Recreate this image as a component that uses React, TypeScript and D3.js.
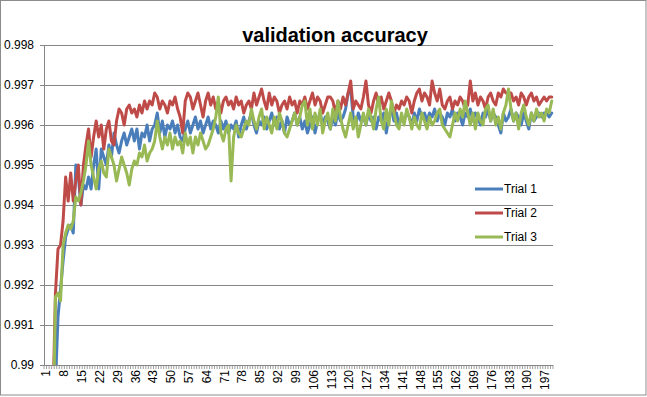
import React from "react";
import * as d3 from "d3";

// validation accuracy per epoch
const trial1 = [
  0.984, 0.986, 0.987, 0.988, 0.9895, 0.9912, 0.9919, 0.9926, 0.9932, 0.9934,
  0.9935, 0.9933, 0.995, 0.9947, 0.994, 0.9945, 0.9944, 0.9947, 0.9944, 0.995,
  0.9954, 0.9944, 0.9954, 0.9952, 0.995, 0.9955, 0.9952, 0.9958, 0.9955, 0.9953,
  0.9956, 0.9958, 0.9955, 0.9957, 0.9959, 0.9956, 0.9959, 0.9954, 0.9958, 0.9957,
  0.996, 0.9956, 0.9959, 0.996, 0.9963, 0.9958, 0.9961, 0.9957, 0.996, 0.9959,
  0.9961, 0.9958, 0.996, 0.9957, 0.9956, 0.9959, 0.9961, 0.9958, 0.996, 0.9962,
  0.9959, 0.9961, 0.9958, 0.996, 0.9962, 0.9959, 0.9961, 0.996, 0.9958, 0.9961,
  0.9959, 0.9961, 0.9958, 0.996, 0.9959, 0.9961, 0.9957, 0.996, 0.9962, 0.9959,
  0.9961, 0.9963, 0.996, 0.9958, 0.9961, 0.996, 0.9962, 0.9959, 0.9961, 0.9963,
  0.996, 0.9962, 0.9959, 0.9961, 0.9958, 0.9962, 0.996, 0.9961, 0.9963, 0.996,
  0.9962, 0.9959, 0.9961, 0.9958, 0.996, 0.9962, 0.9958, 0.9961, 0.9963, 0.996,
  0.9962, 0.9961, 0.9959, 0.9962, 0.996, 0.9963, 0.9961, 0.9962, 0.9964, 0.9968,
  0.9969, 0.9962, 0.996, 0.9963, 0.9961, 0.9962, 0.996, 0.9963, 0.9961, 0.9962,
  0.9959, 0.9962, 0.9961, 0.9963, 0.9958, 0.9962, 0.9964, 0.9961, 0.9963, 0.996,
  0.9962, 0.9961, 0.9963, 0.9962, 0.996, 0.9963, 0.9961, 0.9964, 0.9962, 0.9963,
  0.9961, 0.9963, 0.9962, 0.9964, 0.9961, 0.9963, 0.9962, 0.996, 0.9963, 0.9962,
  0.9964, 0.9961, 0.9963, 0.9962, 0.996, 0.9963, 0.9962, 0.9964, 0.9961, 0.9963,
  0.9962, 0.996, 0.9963, 0.9962, 0.9964, 0.9961, 0.9963, 0.9962, 0.996, 0.9958,
  0.9963, 0.9961, 0.9962, 0.9964, 0.9961, 0.9963, 0.9962, 0.996, 0.9963, 0.9961,
  0.9959, 0.9963, 0.9961, 0.9962, 0.9963, 0.9962, 0.9963, 0.9963, 0.9962, 0.9963,
];

const trial2 = [
  0.985, 0.987, 0.988, 0.989, 0.9918, 0.9929, 0.993, 0.9936, 0.9947, 0.9941,
  0.9948, 0.9941, 0.9946, 0.995, 0.994, 0.995, 0.9955, 0.9959, 0.9952, 0.9957,
  0.9961, 0.9957, 0.996, 0.9954, 0.9959, 0.9961, 0.9956, 0.9955, 0.9961, 0.9964,
  0.9963, 0.996, 0.9964, 0.9965, 0.9963, 0.9964, 0.9962, 0.9965, 0.9963, 0.9966,
  0.9964, 0.9966, 0.9965, 0.9968, 0.9967, 0.9964, 0.9966, 0.9965, 0.9963, 0.9966,
  0.9965, 0.9967, 0.9964, 0.9962, 0.9958, 0.9966, 0.9968, 0.9967, 0.9964, 0.9966,
  0.9968, 0.9965, 0.9962, 0.9966, 0.9968, 0.9965, 0.9967, 0.9964, 0.9966, 0.9963,
  0.9966, 0.9967, 0.9965, 0.9966, 0.9964, 0.9967, 0.9965, 0.9966, 0.9963, 0.9965,
  0.9966, 0.9964, 0.9968, 0.9965, 0.9967, 0.9969, 0.9966, 0.9964, 0.9968, 0.9965,
  0.9967, 0.9966, 0.9963, 0.9965, 0.9966, 0.9964, 0.9967, 0.9965, 0.9966, 0.9963,
  0.9966, 0.9965, 0.9967, 0.9964, 0.9966, 0.9968, 0.9965, 0.9967, 0.9966, 0.9963,
  0.9965, 0.9967, 0.9967, 0.9966, 0.9963, 0.9966, 0.9964, 0.9967, 0.9965, 0.9968,
  0.9971, 0.9964, 0.9966, 0.9965, 0.9964, 0.9967, 0.9971, 0.9965, 0.9963, 0.9966,
  0.9968, 0.9965, 0.9967, 0.9964, 0.9966, 0.9968, 0.9966, 0.9963, 0.9965, 0.9964,
  0.9966, 0.9965, 0.9967, 0.9966, 0.9963, 0.9966, 0.9968, 0.9969, 0.9966, 0.9968,
  0.9967, 0.9965, 0.9971, 0.9968, 0.9966, 0.9969, 0.9965, 0.9964, 0.9966, 0.9967,
  0.9964, 0.9966, 0.9965, 0.9967, 0.9966, 0.9964, 0.9965, 0.9971, 0.9966, 0.9968,
  0.9965, 0.9967, 0.9966, 0.9964, 0.9967, 0.9968, 0.9966, 0.9965, 0.9968, 0.9967,
  0.9969, 0.9968, 0.9968, 0.9968, 0.9966, 0.9967, 0.9965, 0.9968, 0.9967, 0.9965,
  0.9967, 0.9968, 0.9966, 0.9967, 0.9965, 0.9966, 0.9967, 0.9966, 0.9967, 0.9967,
];

const trial3 = [
  0.986, 0.987, 0.9875, 0.988, 0.9917, 0.9918, 0.9916, 0.993, 0.9933, 0.9935,
  0.9934, 0.9936, 0.9942, 0.9941, 0.9943, 0.9946, 0.995, 0.9956, 0.995, 0.9947,
  0.9944, 0.9949, 0.9951, 0.9948, 0.9947, 0.9954, 0.9952, 0.995, 0.9946, 0.9949,
  0.9952, 0.995, 0.9948, 0.9945, 0.9949, 0.9951, 0.995, 0.9953, 0.9952, 0.9955,
  0.9951, 0.9953, 0.9954, 0.9956, 0.9961, 0.9957, 0.9954, 0.9957, 0.9955, 0.9958,
  0.9954, 0.9957, 0.9955, 0.9956, 0.9953, 0.9958, 0.9955, 0.9957, 0.9953, 0.9957,
  0.9955, 0.9958, 0.9956, 0.9954, 0.9955, 0.9957, 0.9959, 0.9962, 0.9967, 0.9958,
  0.9956, 0.9959, 0.996, 0.9946, 0.9957, 0.996, 0.9958, 0.9957, 0.9959, 0.9961,
  0.996, 0.9964, 0.9961, 0.9959, 0.9962, 0.9964, 0.9959, 0.9962, 0.996, 0.9958,
  0.9962, 0.9959, 0.9963, 0.9961, 0.9958, 0.9957, 0.9959, 0.9961, 0.9963, 0.996,
  0.9962, 0.9965, 0.9966, 0.996, 0.9964, 0.9959, 0.9963, 0.996, 0.9964, 0.9958,
  0.9961, 0.9963, 0.9959, 0.9964, 0.9961, 0.9966, 0.9962, 0.9959, 0.9957, 0.996,
  0.9963, 0.9959, 0.9962, 0.9957, 0.996, 0.9963, 0.996, 0.9964, 0.9962, 0.9959,
  0.9964, 0.9967, 0.9961, 0.9959, 0.9964, 0.996, 0.9966, 0.9963, 0.996, 0.9959,
  0.9963, 0.996, 0.9964, 0.9962, 0.9959, 0.9962, 0.996, 0.9959, 0.9963, 0.9961,
  0.9959, 0.9962, 0.996, 0.9961, 0.9963, 0.9964, 0.996, 0.9959, 0.9958, 0.9957,
  0.996, 0.9963, 0.9961, 0.9964, 0.9962, 0.9966, 0.9963, 0.996, 0.9963, 0.9959,
  0.9963, 0.9961, 0.996, 0.9964, 0.9965, 0.9961, 0.9964, 0.996, 0.9962, 0.9959,
  0.9963, 0.9965, 0.9969, 0.9964, 0.9961, 0.9963, 0.9959, 0.9963, 0.9965, 0.9962,
  0.996, 0.9963, 0.9961, 0.9964, 0.9962, 0.9963, 0.9961, 0.9964, 0.9963, 0.9966,
];

const seriesNames = ["Trial 1", "Trial 2", "Trial 3"];
const seriesColors = ["#4A7EBB", "#BE4B48", "#98B954"];
const yTicks = [0.99, 0.991, 0.992, 0.993, 0.994, 0.995, 0.996, 0.997, 0.998];
const yTickLabels = ["0.99", "0.991", "0.992", "0.993", "0.994", "0.995", "0.996", "0.997", "0.998"];
const xTickLabels = [
  "1", "8", "15", "22", "29", "36", "43", "50", "57", "64", "71", "78", "85", "92",
  "99", "106", "113", "120", "127", "134", "141", "148", "155", "162", "169", "176",
  "183", "190", "197",
];

const W = 647;
const H = 397;
const left = 44;
const right = 553;
const top = 45;
const bottom = 365;
const font = "'Liberation Sans', Arial, sans-serif";

export default function App() {
  const series = [trial1, trial2, trial3];
  const categories = trial1.map((_, i) => String(i + 1));

  const x = d3.scaleBand().domain(categories).range([left, right]);
  const y = d3.scaleLinear().domain([0.99, 0.998]).range([bottom, top]);
  const cx = (c: string) => (x(c) as number) + x.bandwidth() / 2;

  const line = d3
    .line<number>()
    .x((_, i) => cx(categories[i]))
    .y((d) => y(d));

  // category boundaries for the little tick marks under the axis
  const edges = categories.map((c) => x(c) as number).concat([right]);

  return (
    <>
      <style>{`body{margin:0}`}</style>
      <svg width={W} height={H} style={{ display: "block", fontFamily: font }}>
        <defs>
          <clipPath id="plotClip">
            <rect x={left} y={top - 10} width={right - left + 4} height={bottom - top + 10} />
          </clipPath>
        </defs>
        <rect x={0.5} y={0.5} width={645.5} height={394.5} fill="#fff" stroke="#8c8c8c" />

        {/* gridlines + y axis ticks */}
        {yTicks.map((t, i) => (
          <g key={t}>
            <line x1={left - 4} x2={right} y1={Math.round(y(t)) + 0.5} y2={Math.round(y(t)) + 0.5} stroke="#868686" />
            <text x={34} y={y(t)} dy="0.35em" textAnchor="end" fontSize={12} fill="#000">
              {yTickLabels[i]}
            </text>
          </g>
        ))}
        <line x1={left + 0.5} x2={left + 0.5} y1={top} y2={bottom} stroke="#868686" />

        {/* x axis minor ticks */}
        {edges.map((e, i) => (
          <line key={i} x1={e} x2={e} y1={bottom} y2={bottom + 4} stroke="#868686" strokeWidth={0.8} />
        ))}
        {xTickLabels.map((l) => (
          <text
            key={l}
            transform={`translate(${cx(l) + 1},${bottom + 5}) rotate(-90)`}
            dy="0.35em"
            textAnchor="end"
            fontSize={12}
            fill="#000"
          >
            {l}
          </text>
        ))}

        {/* series lines */}
        <g clipPath="url(#plotClip)">
          {series.map((s, i) => (
            <path
              key={seriesNames[i]}
              d={line(s) as string}
              fill="none"
              stroke={seriesColors[i]}
              strokeWidth={3}
              strokeLinejoin="round"
              strokeLinecap="round"
            />
          ))}
        </g>

        {/* title */}
        <text x={335} y={42} textAnchor="middle" fontSize={20} fontWeight="bold" fill="#000">
          validation accuracy
        </text>

        {/* legend */}
        {seriesNames.map((n, i) => (
          <g key={n} transform={`translate(475,${189 + i * 24})`}>
            <line x1={0} x2={28} y1={0} y2={0} stroke={seriesColors[i]} strokeWidth={3} />
            <text x={29} y={0} dy="0.35em" fontSize={12} fill="#000">
              {n}
            </text>
          </g>
        ))}
      </svg>
    </>
  );
}
